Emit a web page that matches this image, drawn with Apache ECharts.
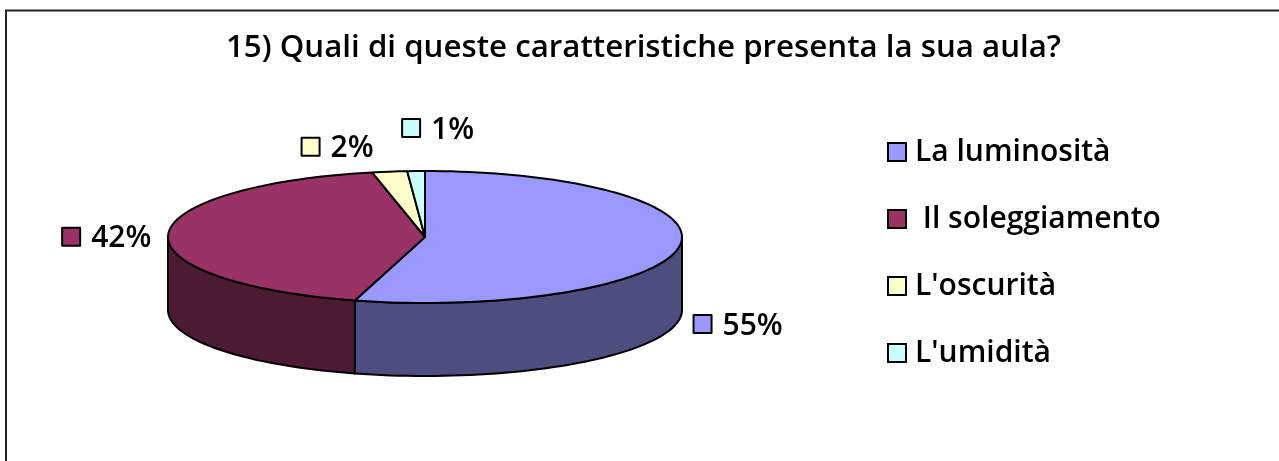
<!DOCTYPE html>
<html>
    <head>
        <title>15) Quali di queste caratteristiche presenta la sua aula?</title>
        <script src="https://cdn.jsdelivr.net/npm/echarts@6/dist/echarts.min.js"></script>
        <style>
            html, body { margin: 0; padding: 0; background: #fff; overflow: hidden; }
        </style>
    </head>
    <body>
        <div id="chart" style="width: 1279px;height: 461px;"></div>
        <script>
            var titleText = '15) Quali di queste caratteristiche presenta la sua aula?';
            var categories = ['La luminosità', ' Il soleggiamento', "L'oscurità", "L'umidità"];
            var values = [54.4, 42.3, 2.2, 1.1];
            var labels = ['55%', '42%', '2%', '1%'];
            var topColors = ['#9999ff', '#993366', '#ffffcc', '#ccffff'];
            var wallColors = ['#4d4d80', '#4d1a33', '#80806a', '#6a8080'];

            var myChart = echarts.init(document.getElementById("chart"));

            var fontFamily = '"Open Sans", sans-serif';
            var cx = 425, cy = 237, rx = 257, ry = 66, depth = 73;
            // label box offset from the rim point at the slice's middle angle
            var labelOffset = [[14, 78], [-106, 2], [-88, -25], [-14, -43]];
            var total = values.reduce(function (a, b) { return a + b; }, 0);

            function rim(deg, dy) {
                var r = deg * Math.PI / 180;
                return [cx + rx * Math.sin(r), cy - ry * Math.cos(r) + (dy || 0)];
            }

            function arc(from, to, dy) {
                var pts = [];
                var n = Math.max(2, Math.ceil(Math.abs(to - from) / 2));
                for (var i = 0; i <= n; i++) {
                    pts.push(rim(from + (to - from) * i / n, dy));
                }
                return pts;
            }

            function renderSlice(idx) {
                var before = values.slice(0, idx).reduce(function (a, b) { return a + b; }, 0);
                var start = before / total * 360;
                var end = (before + values[idx]) / total * 360;
                var children = [];
                var lineStyle = { stroke: '#000', lineWidth: 2, lineJoin: 'round' };

                // front wall, only the part between 90 and 270 degrees shows
                var wallFrom = Math.max(start, 90), wallTo = Math.min(end, 270);
                if (wallTo > wallFrom) {
                    children.push({
                        type: 'polygon',
                        shape: { points: arc(wallFrom, wallTo, 0).concat(arc(wallTo, wallFrom, depth)) },
                        style: Object.assign({ fill: wallColors[idx] }, lineStyle)
                    });
                }
                children.push({
                    type: 'polygon',
                    shape: { points: [[cx, cy]].concat(arc(start, end, 0)) },
                    style: Object.assign({ fill: topColors[idx] }, lineStyle)
                });

                var mid = rim((start + end) / 2, 0);
                var lx = mid[0] + labelOffset[idx][0], ly = mid[1] + labelOffset[idx][1];
                children.push({
                    type: 'rect',
                    shape: { x: lx, y: ly - 9, width: 18, height: 18 },
                    style: Object.assign({ fill: topColors[idx] }, lineStyle)
                });
                children.push({
                    type: 'text',
                    x: lx + 29,
                    y: ly + 2,
                    style: {
                        text: labels[idx],
                        fill: '#000',
                        font: '600 30px ' + fontFamily,
                        textAlign: 'left',
                        textVerticalAlign: 'middle'
                    }
                });
                return { type: 'group', children: children };
            }

            var series = categories.map(function (name, i) {
                return {
                    type: 'custom',
                    name: name,
                    coordinateSystem: 'none',
                    itemStyle: { color: topColors[i] },
                    data: [values[i]],
                    renderItem: function () {
                        return renderSlice(i);
                    }
                };
            });

            option = {
                animation: false,
                backgroundColor: '#fff',
                title: {
                    text: titleText,
                    left: 226,
                    top: 33,
                    padding: 0,
                    textStyle: {
                        color: '#000',
                        fontFamily: fontFamily,
                        fontSize: 31.25,
                        fontWeight: 600
                    }
                },
                legend: {
                    orient: 'vertical',
                    left: 887,
                    top: 137,
                    padding: 0,
                    itemWidth: 18,
                    itemHeight: 18,
                    itemGap: 37,
                    icon: 'rect',
                    data: categories,
                    selectedMode: false,
                    itemStyle: { borderColor: '#000', borderWidth: 2 },
                    textStyle: {
                        color: '#000',
                        fontFamily: fontFamily,
                        fontSize: 30,
                        fontWeight: 600,
                        lineHeight: 30,
                        padding: [0, 0, 0, 4]
                    }
                },
                graphic: [{
                    type: 'rect',
                    shape: { x: 6, y: 10.5, width: 1300, height: 470 },
                    style: { fill: 'none', stroke: '#222', lineWidth: 2 }
                }],
                series: series
            };

            myChart.setOption(option);
        </script>
    </body>
</html>
